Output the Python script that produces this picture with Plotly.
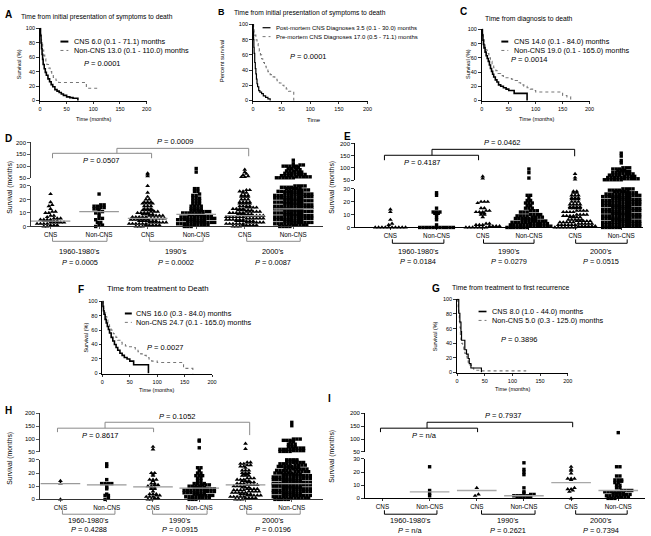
import numpy as np
import plotly.graph_objects as go

W, H = 651, 536
FONT = "Liberation Sans, Arial, sans-serif"

# ---------------- Kaplan-Meier step curves (time in months, survival %) ----------------
km_ticks_x = [0, 50, 100, 150, 200]
km_ticks_y = [0, 20, 40, 60, 80, 100]

A_cns_t = [0, 1, 2, 3, 4, 5, 6, 8, 10, 12, 15, 18, 21, 24, 28, 32, 36, 40, 44, 50, 56, 62, 71.1]
A_cns_s = [100, 90, 80, 72, 64, 57, 50, 44, 39, 35, 30, 26, 22, 19, 15, 13, 11, 9, 7, 5, 4, 3, 0]
A_non_t = [0, 1, 2, 3, 5, 7, 9, 11, 13, 16, 19, 22, 25, 30, 35, 87, 110]
A_non_s = [100, 92, 85, 78, 70, 63, 58, 54, 50, 45, 40, 36, 32, 28, 25, 17, 17]

B_post_t = [0, 0.5, 1, 1.5, 2, 3, 4, 5, 6, 7, 8, 10, 12, 15, 18, 22, 26, 30]
B_post_s = [100, 90, 80, 70, 62, 50, 42, 35, 28, 22, 18, 13, 11, 9, 6, 4, 2, 0]
B_pre_t = [0, 1, 2, 3, 5, 7, 9, 11, 13, 15, 17, 20, 23, 26, 30, 34, 38, 42, 46, 50, 54, 58, 62, 71.1]
B_pre_s = [100, 95, 90, 86, 80, 75, 70, 65, 60, 55, 50, 45, 42, 38, 34, 31, 28, 26, 23, 20, 17, 15, 12, 0]

C_cns_t = [0, 1, 2, 3, 4, 6, 8, 10, 12, 14, 16, 18, 20, 22, 25, 28, 31, 35, 40, 45, 50, 60, 84]
C_cns_s = [100, 92, 85, 79, 74, 68, 63, 59, 55, 50, 45, 41, 37, 33, 29, 26, 22, 20, 18, 16, 14, 10, 0]
C_non_t = [0, 1, 2, 4, 6, 8, 10, 13, 16, 19, 22, 26, 30, 35, 40, 45, 50, 55, 60, 66, 72, 78, 84, 90, 96, 100, 150, 158, 165]
C_non_s = [100, 93, 88, 82, 76, 71, 66, 60, 55, 50, 46, 42, 38, 35, 33, 32, 31, 30, 28, 25, 22, 20, 18, 16, 14, 12, 7, 5, 0]

F_cns_t = [0, 1, 2, 3, 5, 7, 9, 11, 13, 16, 19, 22, 25, 28, 32, 36, 40, 45, 50, 57, 84]
F_cns_s = [100, 93, 87, 82, 75, 70, 65, 61, 56, 50, 45, 40, 36, 32, 28, 25, 22, 20, 17, 12, 0]
F_non_t = [0, 1, 2, 4, 6, 8, 10, 13, 16, 20, 24.7, 28, 32, 36, 42, 48, 55, 60, 65, 70, 75, 80, 85, 90, 100, 148, 165]
F_non_s = [100, 95, 90, 84, 79, 74, 70, 65, 60, 55, 50, 46, 43, 40, 38, 37, 36, 33, 30, 27, 25, 22, 20, 17, 15, 7, 0]

G_cns_t = [0, 3, 5, 7, 8, 14, 17, 20, 22, 25, 44]
G_cns_s = [100, 81, 69, 56, 44, 31, 25, 19, 12, 6, 0]
G_non_t = [0, 1, 2, 3, 4, 5, 6, 7, 8, 10, 12, 14, 16, 18, 20, 23, 26, 30, 45, 125]
G_non_s = [100, 93, 86, 78, 70, 62, 52, 45, 40, 35, 30, 26, 22, 18, 14, 10, 6, 3, 2, 2]

# ---------------- column scatter data: (survival months, number of patients) ----------------
cats = ["CNS", "Non-CNS", "CNS", "Non-CNS", "CNS", "Non-CNS"]
decades = ["1960-1980's", "1990's", "2000's"]
low_ticks = [0, 10, 20, 30]
high_ticks = [50, 100, 150, 200]

D_60_CNS = [(24, 1), (18, 1), (16, 1), (15, 1), (13, 1), (11, 2), (10, 2), (8, 2), (7, 1), (6, 3), (5, 4), (4, 5), (3, 5), (2, 4), (1, 3), (0, 2)]
D_60_NON = [(24, 1), (16, 2), (15, 2), (14, 2), (13, 2), (12, 1), (11, 1), (10, 2), (8, 1), (6, 2), (5, 1), (3, 2), (1, 2), (0, 1)]
D_90_CNS = [(70, 1), (65, 1), (58, 1), (30, 1), (25, 1), (22, 1), (20, 2), (18, 3), (17, 4), (15, 3), (13, 3), (12, 4), (11, 3), (10, 4), (9, 4), (8, 5), (7, 5), (6, 5), (5, 6), (4, 6), (3, 6), (2, 6), (1, 5), (0, 3)]
D_90_NON = [(90, 1), (75, 1), (28, 2), (26, 2), (24, 1), (23, 2), (21, 3), (19, 3), (17, 3), (15, 4), (13, 4), (12, 4), (11, 4), (10, 5), (9, 5), (8, 5), (7, 5), (6, 6), (5, 6), (4, 6), (3, 6), (2, 6), (1, 5), (0, 3)]
D_00_CNS = [(85, 1), (75, 1), (68, 1), (62, 1), (58, 1), (54, 2), (27, 2), (26, 2), (25, 2), (23, 3), (22, 3), (20, 3), (18, 4), (17, 4), (15, 4), (14, 4), (13, 4), (12, 5), (11, 5), (10, 5), (9, 5), (8, 6), (7, 6), (6, 6), (5, 6), (4, 6), (3, 6), (2, 6), (1, 5), (0, 3)]
D_00_NON = [(125, 1), (110, 1), (105, 2), (100, 5), (95, 2), (90, 2), (85, 2), (80, 3), (75, 3), (70, 3), (65, 4), (60, 4), (55, 5), (51, 6),
            (30, 4), (29, 4), (28, 5), (27, 5), (26, 5), (25, 6), (24, 6), (23, 6), (22, 6), (21, 6), (20, 6), (19, 6), (18, 6), (17, 6), (16, 6),
            (15, 6), (14, 6), (13, 6), (12, 6), (11, 6), (10, 6), (9, 6), (8, 6), (7, 6), (6, 6), (5, 6), (4, 6), (3, 6), (2, 6), (1, 5), (0, 4)]
D_med = [4, 11, 6, 9, 8, 13]

E_60_CNS = [(14, 1), (12, 1), (6, 1), (3, 1), (2, 1), (0, 10)]
E_60_NON = [(27, 1), (25, 1), (15, 1), (12, 3), (11, 2), (10, 1), (8, 1), (6, 1), (2, 1), (0, 11)]
E_90_CNS = [(65, 1), (56, 1), (20, 3), (19, 1), (15, 2), (13, 2), (12, 3), (11, 2), (10, 2), (8, 1), (3, 2), (2, 3), (1, 4), (0, 7)]
E_90_NON = [(95, 1), (80, 1), (58, 1), (25, 2), (23, 1), (21, 2), (19, 3), (17, 2), (15, 3), (13, 3), (12, 3), (10, 4), (9, 4), (8, 4), (7, 5), (6, 5), (5, 5), (4, 6), (3, 6), (2, 6), (1, 7), (0, 7)]
E_00_CNS = [(75, 1), (60, 1), (52, 1), (28, 2), (27, 2), (25, 3), (23, 3), (22, 3), (20, 3), (18, 4), (16, 4), (15, 4), (13, 4), (12, 4), (10, 4), (9, 4), (8, 4), (6, 5), (5, 5), (4, 5), (3, 5), (2, 6), (1, 6), (0, 7)]
E_00_NON = [(160, 1), (148, 1), (130, 1), (120, 1), (100, 3), (95, 3), (90, 3), (85, 3), (80, 3), (75, 4), (70, 4), (65, 4), (60, 5), (55, 5), (51, 6),
            (30, 4), (29, 4), (28, 5), (27, 5), (26, 5), (25, 6), (24, 6), (23, 6), (22, 6), (21, 6), (20, 6), (19, 6), (18, 6), (17, 6), (16, 6),
            (15, 6), (14, 6), (13, 6), (12, 6), (11, 6), (10, 6), (9, 6), (8, 6), (7, 6), (6, 6), (5, 6), (4, 6), (3, 6), (2, 6), (1, 6), (0, 6)]

H_60_CNS = [(14, 1), (12, 1), (0, 1)]
H_60_NON = [(27, 1), (25, 1), (15, 1), (12, 4), (11, 1), (9, 1), (8, 1), (4, 1), (3, 2), (1, 1), (0, 1)]
H_90_CNS = [(70, 1), (60, 1), (20, 2), (19, 1), (18, 1), (15, 3), (14, 1), (12, 2), (11, 2), (10, 2), (9, 2), (8, 2), (6, 1), (4, 3), (3, 2), (2, 3), (1, 2), (0, 2)]
H_90_NON = [(96, 1), (92, 1), (66, 1), (24, 2), (22, 1), (20, 2), (18, 3), (16, 2), (14, 2), (12, 4), (11, 3), (10, 4), (9, 4), (8, 5), (7, 5), (6, 5), (5, 5), (4, 4), (3, 5), (2, 4), (1, 4), (0, 3)]
H_00_CNS = [(82, 1), (62, 1), (28, 2), (27, 2), (26, 2), (25, 2), (24, 1), (22, 3), (20, 3), (19, 2), (18, 3), (16, 3), (15, 3), (14, 3), (13, 3), (12, 3), (11, 4), (10, 4), (9, 3), (8, 4), (7, 4), (6, 4), (5, 5), (4, 4), (3, 5), (2, 5), (1, 4), (0, 3)]
H_00_NON = [(165, 1), (152, 1), (100, 3), (95, 3), (90, 2), (80, 3), (70, 3), (65, 4), (60, 4), (55, 4), (52, 4),
            (30, 4), (29, 4), (28, 4), (27, 4), (26, 4), (25, 5), (24, 5), (23, 5), (22, 5), (21, 5), (20, 6), (19, 6), (18, 6), (17, 6), (16, 6),
            (15, 6), (14, 6), (13, 6), (12, 6), (11, 6), (10, 6), (9, 6), (8, 6), (7, 6), (6, 6), (5, 6), (4, 6), (3, 6), (2, 6), (1, 6), (0, 5)]
H_med = [12, 11, 9.5, 8.5, 11, 12]

I_60_CNS = []
I_60_NON = [(24, 1), (6, 1), (4, 1), (2, 1)]
I_90_CNS = [(8, 1), (3, 1), (2, 1)]
I_90_NON = [(27, 1), (22, 1), (20, 1), (18, 1), (8, 1), (5, 1), (4, 1), (3, 2), (2, 5), (1, 5)]
I_00_CNS = [(24, 1), (22, 1), (21, 1), (19, 1), (15, 3), (14, 1), (8, 1), (7, 2), (6, 1), (5, 1), (0, 1)]
I_00_NON = [(125, 1), (24, 2), (17, 2), (14, 3), (13, 1), (12, 2), (10, 2), (8, 2), (6, 4), (5, 5), (4, 4), (3, 4), (2, 4), (1, 4), (0, 3)]
I_med = [None, 5, 6, 2, 12, 6]

# ---------------- helpers ----------------
def xp(px):
    return px / W


def yp(py):
    return 1 - py / H


fig = go.Figure()
layout = {}
shapes, annots = [], []


def aname(k, n):
    return f"{k}axis" if n == 1 else f"{k}axis{n}"


def aref(k, n):
    return k if n == 1 else f"{k}{n}"


def seg(x0, y0, x1, y1, color="black", width=1.0, dash="solid"):
    shapes.append(dict(type="line", xref="paper", yref="paper", x0=xp(x0), y0=yp(y0), x1=xp(x1), y1=yp(y1),
                       line=dict(color=color, width=width, dash=dash)))


def txt(x, y, s, size=7.0, xanchor="center", angle=0, color="black"):
    annots.append(dict(x=xp(x), y=yp(y), xref="paper", yref="paper", text=s, showarrow=False,
                       xanchor=xanchor, yanchor="middle", textangle=angle,
                       font=dict(size=size, family=FONT, color=color)))


base_ax = dict(showline=True, linecolor="black", linewidth=1, ticks="outside", ticklen=2.5, tickwidth=0.8,
               tickcolor="black", showgrid=False, zeroline=False, fixedrange=True,
               tickfont=dict(size=5.5, family=FONT, color="black"))


def km_panel(n, xl, xr, yt, yb, curves):
    layout[aname("x", n)] = dict(base_ax, domain=[xp(xl), xp(xr)], range=[-0.6, 200], tickvals=km_ticks_x,
                                  anchor=aref("y", n))
    layout[aname("y", n)] = dict(base_ax, domain=[yp(yb), yp(yt)], range=[-0.6, 101], tickvals=km_ticks_y,
                                  anchor=aref("x", n))
    for t, s, style in curves:
        fig.add_trace(go.Scatter(x=t, y=s, mode="lines", line_shape="hv", line=style, hoverinfo="skip",
                                 xaxis=aref("x", n), yaxis=aref("y", n), showlegend=False))


SOLID = dict(color="black", width=1.6)
SOLID_THIN = dict(color="black", width=1.2)
DOT = dict(color="#777777", width=1.1, dash="dot")

km_panel(1, 39, 147, 25, 99, [(A_non_t, A_non_s, DOT), (A_cns_t, A_cns_s, SOLID)])
km_panel(2, 254, 370, 21, 99, [(B_pre_t, B_pre_s, DOT), (B_post_t, B_post_s, SOLID_THIN)])
km_panel(3, 485, 594, 26, 99, [(C_non_t, C_non_s, DOT), (C_cns_t, C_cns_s, SOLID)])
km_panel(4, 102, 213, 301, 375, [(F_non_t, F_non_s, DOT), (F_cns_t, F_cns_s, SOLID)])
km_panel(5, 460, 572, 299, 374, [(G_non_t, G_non_s, DOT), (G_cns_t, G_cns_s, SOLID_THIN)])


def km_legend(lx0, lx1, tx, y1, y2, t1, t2, size, lw=2.0):
    seg(lx0, y1, lx1, y1, "black", lw)
    seg(lx0, y2, lx1, y2, "#777777", 1.0, "dot")
    txt(tx, y1, t1, size, "left")
    txt(tx, y2, t2, size, "left")


# panel A
txt(2, 12, "<b>A</b>", 10, "left")
txt(18, 14, "Time from initial presentation of symptoms to death", 6.7, "left")
txt(18, 62, "Survival (%)", 5.5, angle=-90)
txt(93, 117, "Time (months)", 5.5)
km_legend(60, 68, 72, 39, 48, "CNS 6.0 (0.1 - 71.1) months", "Non-CNS 13.0 (0.1 - 110.0) months", 7.3)
txt(82, 61, "<i>P</i> = 0.0001", 7.5, "left")

# panel B
txt(217, 9, "<b>B</b>", 9, "left")
txt(233, 10, "Time from initial presentation of symptoms to death", 6.7, "left")
txt(223, 58, "Percent survival", 6, angle=-90)
txt(316, 118, "Time", 6)
km_legend(264, 272, 276, 25, 34, "Post-mortem CNS Diagnoses 3.5 (0.1 - 30.0) months",
          "Pre-mortem CNS Diagnoses 17.0 (0.5 - 71.1) months", 6.0, 1.2)
txt(290, 54, "<i>P</i> = 0.0001", 7.5, "left")

# panel C
txt(461, 9, "<b>C</b>", 10, "left")
txt(533, 16, "Time from diagnosis to death", 6.8)
txt(472, 62, "Survival (%)", 5.5, angle=-90)
txt(540, 117, "Time (months)", 5.5)
km_legend(505, 512, 516, 39, 48, "CNS 14.0 (0.1 - 84.0) months", "Non-CNS 19.0 (0.1 - 165.0) months", 7.3)
txt(513, 57, "<i>P</i> = 0.0014", 7.5, "left")

# panel F
txt(76, 290, "<b>F</b>", 10, "left")
txt(105, 289, "Time from treatment to Death", 7.8, "left")
txt(86, 338, "Survival (%)", 5.5, angle=-90)
txt(157, 391, "Time (months)", 5.5)
km_legend(125, 132, 134, 314, 323, "CNS 16.0 (0.3 - 84.0) months", "Non-CNS 24.7 (0.1 - 165.0) months", 7.3)
txt(145, 348, "<i>P</i> = 0.0027", 7.5, "left")

# panel G
txt(433, 289, "<b>G</b>", 10, "left")
txt(453, 288, "Time from treatment to first recurrence", 6.9, "left")
txt(438, 337, "Survival (%)", 5.5, angle=-90)
txt(516, 390, "Time (months)", 5.5)
km_legend(482, 490, 494, 312, 321, "CNS 8.0 (1.0 - 44.0) months", "Non-CNS 5.0 (0.3 - 125.0) months", 7.3, 1.6)
txt(503, 340, "<i>P</i> = 0.3896", 7.5, "left")


# ---------------- column scatter panels ----------------
def spread(values, gi, ppu, base, sp, binpx=2.2, dpx=3.4):
    bins = {}
    for v in sorted(values):
        b = int(((v - base) * ppu) // binpx)
        bins.setdefault(b, []).append(v)
    xs, ys = [], []
    for b in sorted(bins):
        mem = bins[b]
        n = len(mem)
        for k, v in enumerate(mem):
            xs.append(gi + (k - (n - 1) / 2) * dpx / sp)
            ys.append(v)
    return xs, ys


def sc_panel(xn, ybn, ytn, P, groups, meds, medcolor, axcolor):
    xl, xr, c0, sp = P["xl"], P["xr"], P["c0"], P["sp"]
    y0, y30, y50, y200 = P["y0"], P["y30"], P["y50"], P["y200"]
    ax = dict(base_ax, linecolor=axcolor, tickcolor=axcolor, tickfont=dict(size=6, family=FONT, color="black"))
    layout[aname("x", xn)] = dict(ax, domain=[xp(xl), xp(xr)], range=[(xl - c0) / sp, (xr - c0) / sp],
                                   tickvals=list(range(6)), ticktext=cats, ticklen=2,
                                   tickfont=dict(size=6.3, family=FONT, color="black"), anchor=aref("y", ybn))
    layout[aname("y", ybn)] = dict(ax, domain=[yp(y0), yp(y30)], range=[0, 30], tickvals=low_ticks,
                                    anchor=aref("x", xn))
    layout[aname("y", ytn)] = dict(ax, domain=[yp(y50), yp(y200)], range=[50, 200], tickvals=high_ticks,
                                    anchor=aref("x", xn))
    ppu_b = (y0 - y30) / 30.0
    ppu_t = (y50 - y200) / 150.0
    for gi, grp in enumerate(groups):
        vals = [v for v, c in grp for _ in range(c)]
        low = [v for v in vals if v <= 30]
        high = [v for v in vals if v > 30]
        sym = "triangle-up" if gi % 2 == 0 else "square"
        size = 4.2 if gi % 2 == 0 else 3.4
        for part, ppu, base, yn in ((low, ppu_b, 0, ybn), (high, ppu_t, 50, ytn)):
            if not part:
                continue
            xs, ys = spread(part, gi, ppu, base, sp)
            fig.add_trace(go.Scatter(x=xs, y=ys, mode="markers", cliponaxis=False, hoverinfo="skip",
                                     marker=dict(symbol=sym, size=size, color="black", line=dict(width=0)),
                                     xaxis=aref("x", xn), yaxis=aref("y", yn), showlegend=False))
    if meds is not None:
        hw = 20.0 / sp
        for gi, m in enumerate(meds):
            if m is None:
                continue
            fig.add_trace(go.Scatter(x=[gi - hw, gi + hw], y=[m, m], mode="lines", hoverinfo="skip",
                                     line=dict(color=medcolor, width=1.3), xaxis=aref("x", xn),
                                     yaxis=aref("y", ybn), showlegend=False))


def decade_brackets(spans, yline, ylab, yp_, ptexts, color):
    for (a, b), lab, pt in zip(spans, decades, ptexts):
        seg(a, yline - 4, a, yline, color, 1)
        seg(a, yline, b, yline, color, 1)
        seg(b, yline - 4, b, yline, color, 1)
        txt((a + b) / 2, ylab, lab, 7.4)
        txt((a + b) / 2, yp_, pt, 7.4)


def top_brackets(b1, b2x, b2r, y1, y2, tick1, r2drop, p1, p1xy, p2, p2xy, color):
    a, b = b1
    seg(a, y1 + tick1, a, y1, color, 1)
    seg(a, y1, b, y1, color, 1)
    seg(b, y1, b, y1 + tick1, color, 1)
    seg(b2x, y1, b2x, y2, color, 1)
    seg(b2x, y2, b2r, y2, color, 1)
    seg(b2r, y2, b2r, y2 + r2drop, color, 1)
    txt(p1xy[0], p1xy[1], p1, 7.5)
    txt(p2xy[0], p2xy[1], p2, 7.5)


GRAY = "#8a8a8a"
PD = dict(xl=30, xr=325, c0=50, sp=49.0, y0=226, y30=185, y50=177, y200=141)
PE = dict(xl=357, xr=648, c0=393, sp=46.6, y0=227, y30=188, y50=179, y200=142)
PH = dict(xl=39, xr=325, c0=60, sp=46.7, y0=502, y30=462, y50=454, y200=415)
PI = dict(xl=367, xr=650, c0=385, sp=47.6, y0=501, y30=461, y50=454, y200=415)

sc_panel(6, 6, 7, PD, [D_60_CNS, D_60_NON, D_90_CNS, D_90_NON, D_00_CNS, D_00_NON], D_med, "#9a9a9a", "#333333")
sc_panel(7, 8, 9, PE, [E_60_CNS, E_60_NON, E_90_CNS, E_90_NON, E_00_CNS, E_00_NON], None, None, "black")
sc_panel(8, 10, 11, PH, [H_60_CNS, H_60_NON, H_90_CNS, H_90_NON, H_00_CNS, H_00_NON], H_med, "#9a9a9a", "#333333")
sc_panel(9, 12, 13, PI, [I_60_CNS, I_60_NON, I_90_CNS, I_90_NON, I_00_CNS, I_00_NON], I_med, "#a8a8a8", "black")

# D
txt(2, 137, "<b>D</b>", 10, "left")
txt(9, 186, "Survival (months)", 6.8, angle=-90)
top_brackets((52, 152), 117, 250, 152, 147, 5, 8, "<i>P</i> = 0.0507", (101, 159), "<i>P</i> = 0.0009", (176, 140), GRAY)
decade_brackets([(52, 107), (150, 204), (248, 302)], 241, 251, 262,
                ["<i>P</i> = 0.0005", "<i>P</i> = 0.0002", "<i>P</i> = 0.0087"], GRAY)
# E
txt(344, 135, "<b>E</b>", 10, "left")
txt(334, 186, "Survival (months)", 6.8, angle=-90)
top_brackets((387, 482), 435, 579, 154, 148, 5, 7, "<i>P</i> = 0.4187", (425, 161), "<i>P</i> = 0.0462", (506, 141), "black")
decade_brackets([(395, 447), (487, 538), (580, 632)], 243, 251, 261,
                ["<i>P</i> = 0.0184", "<i>P</i> = 0.0279", "<i>P</i> = 0.0515"], "black")
# H
txt(2, 412, "<b>H</b>", 10, "left")
txt(9, 460, "Survival (months)", 6.8, angle=-90)
top_brackets((57, 154), 105, 251, 430, 424, 4, 13, "<i>P</i> = 0.8617", (100, 437), "<i>P</i> = 0.1052", (178, 418), GRAY)
decade_brackets([(62, 115), (153, 208), (248, 302)], 517, 523, 532,
                ["<i>P</i> = 0.4288", "<i>P</i> = 0.0915", "<i>P</i> = 0.0196"], GRAY)
# I
txt(328, 400, "<b>I</b>", 10, "left")
txt(334, 458, "Survival (months)", 6.8, angle=-90)
top_brackets((383, 481), 430, 577, 430, 424, 4, 5, "<i>P</i> = n/a", (427, 437), "<i>P</i> = 0.7937", (507, 417), "black")
decade_brackets([(387, 440), (485, 539), (580, 632)], 517, 523, 533,
                ["<i>P</i> = n/a", "<i>P</i> = 0.2621", "<i>P</i> = 0.7394"], "black")

fig.update_layout(**layout)
fig.update_layout(width=W, height=H, margin=dict(l=0, r=0, t=0, b=0), autosize=False,
                  paper_bgcolor="white", plot_bgcolor="white", showlegend=False,
                  shapes=shapes, annotations=annots, font=dict(family=FONT, color="black"))

fig.write_html("out.html", config={"displayModeBar": False, "staticPlot": True},
               post_script="document.body.style.margin='0';document.body.style.overflow='hidden';")
